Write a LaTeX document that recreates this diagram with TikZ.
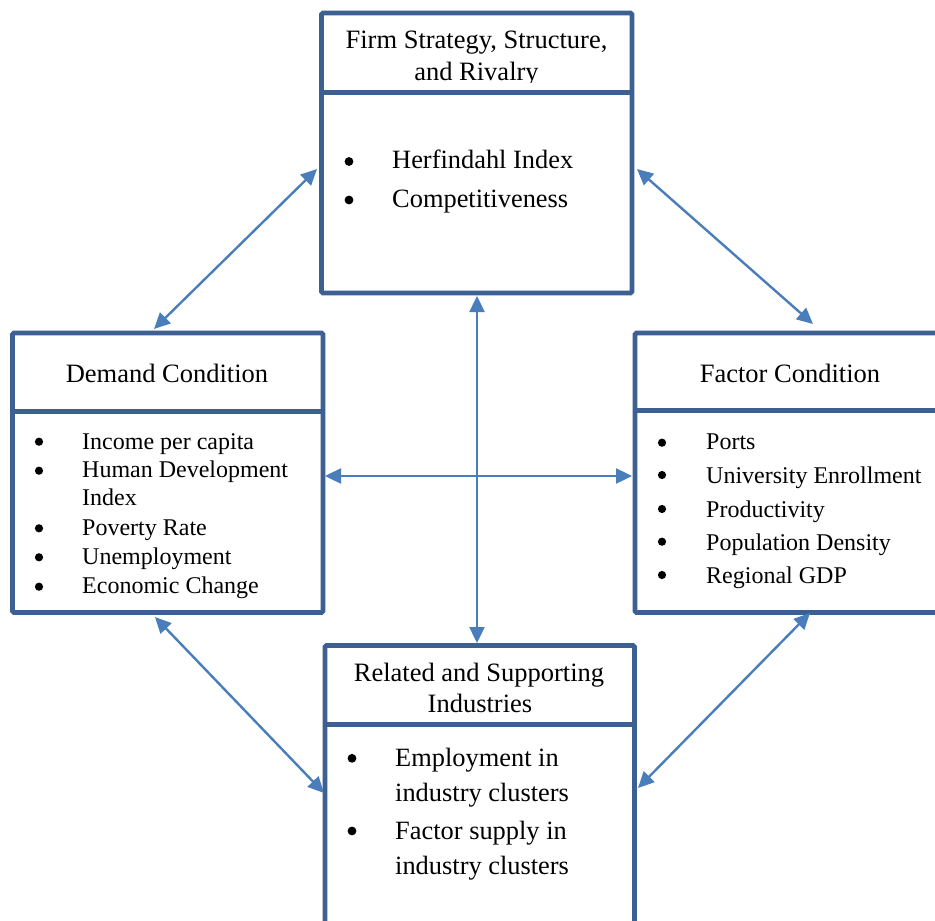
\documentclass[tikz,border=0pt]{standalone}
\usepackage{fontspec}
\setmainfont{Liberation Serif}
\usetikzlibrary{arrows.meta,calc}
\definecolor{boxblue}{RGB}{60,96,146}
\definecolor{arrowblue}{RGB}{74,126,187}
\begin{document}
\begin{tikzpicture}[x=1pt,y=-1pt,
  boxframe/.style={draw=boxblue, line width=4.8pt, fill=white, inner sep=0pt, rounded corners=1.5pt},
  divider/.style={draw=boxblue, line width=4.8pt},
  arr/.style={draw=arrowblue, line width=2.4pt, {Triangle[length=16pt,width=15pt]}-{Triangle[length=16pt,width=15pt]}},
  head/.style={anchor=base, inner sep=0pt, font=\fontsize{26.5}{32}\selectfont},
  bigitem/.style={anchor=base west, inner sep=0pt, font=\fontsize{26.4}{32}\selectfont},
  smallitem/.style={anchor=base west, inner sep=0pt, font=\fontsize{24}{29}\selectfont},
  dot/.style={fill=black}
]
\clip (0,0) rectangle (935,921);
\fill[white] (0,0) rectangle (935,921);

% boxes
\node[boxframe, minimum width=310.5, minimum height=280] (firm) at (476.75,153) {};
\node[boxframe, minimum width=310.5, minimum height=279.5] (demand) at (167.75,472.75) {};
\node[boxframe, minimum width=310.5, minimum height=279.5] (factor) at (790.25,472.75) {};
\node[boxframe, minimum width=309.5, minimum height=280] (related) at (479.75,785.5) {};

% header texts
\begin{scope}
\clip (322,15) rectangle (632,82);
\node[head] (firmh1) at (476.5,48) {Firm Strategy, Structure,};
\node[head] (firmh2) at (476.5,80) {and Rivalry};
\end{scope}
\node[head] (demandh) at (167,382) {Demand Condition};
\node[head] (factorh) at (790,382) {Factor Condition};
\node[head] (relh1) at (479,681) {Related and Supporting};
\node[head] (relh2) at (480,712) {Industries};

% dividers
\draw[divider] ($(firm.north west)+(2,82)$) -- ($(firm.north east)+(-2,82)$);
\draw[divider] ($(demand.north west)+(2,80.5)$) -- ($(demand.north east)+(-2,80.5)$);
\draw[divider] ($(factor.north west)+(2,80)$) -- ($(factor.north east)+(-2,80)$);
\draw[divider] ($(related.north west)+(2,81.5)$) -- ($(related.north east)+(-2,81.5)$);

% firm items
\fill[dot] (349,161.5) circle (4.4);
\fill[dot] (349,200) circle (4.4);
\node[bigitem] (f1) at (392,168) {Herfindahl Index};
\node[bigitem] (f2) at (392,207) {Competitiveness};

% demand items
\fill[dot] (39,441.7) circle (4.1);
\fill[dot] (39,470.7) circle (4.1);
\fill[dot] (39,528.3) circle (4.1);
\fill[dot] (39,557.3) circle (4.1);
\fill[dot] (39,586.7) circle (4.1);
\node[smallitem] (d1) at (82,449) {Income per capita};
\node[smallitem] (d2) at (82,477) {Human Development};
\node[smallitem] (d2b) at (82,505.5) {Index};
\node[smallitem] (d3) at (82,535) {Poverty Rate};
\node[smallitem] (d4) at (82,564) {Unemployment};
\node[smallitem] (d5) at (82,593) {Economic Change};

% factor items
\fill[dot] (662,442.7) circle (4.1);
\fill[dot] (662,475) circle (4.1);
\fill[dot] (662,509) circle (4.1);
\fill[dot] (662,541.7) circle (4.1);
\fill[dot] (662,575) circle (4.1);
\node[smallitem] (c1) at (706,449) {Ports};
\node[smallitem] (c2) at (706,483) {University Enrollment};
\node[smallitem] (c3) at (706,517) {Productivity};
\node[smallitem] (c4) at (706,550) {Population Density};
\node[smallitem] (c5) at (706,583) {Regional GDP};

% related items
\fill[dot] (352,758.3) circle (4.4);
\fill[dot] (352,831) circle (4.4);
\node[bigitem] (r1) at (395,766) {Employment in};
\node[bigitem] (r1b) at (395,801) {industry clusters};
\node[bigitem] (r2) at (395,839) {Factor supply in};
\node[bigitem] (r2b) at (395,874) {industry clusters};

% connector end points
\coordinate (tlA) at (317,169);
\coordinate (tlB) at (154,329);
\coordinate (trA) at (637,169);
\coordinate (trB) at (813,324);
\coordinate (blA) at (155,617);
\coordinate (blB) at (324,793);
\coordinate (brA) at (810,613);
\coordinate (brB) at (638,788);
\coordinate (vA) at (477,296);
\coordinate (vB) at (477,643);
\coordinate (hA) at (325,476);
\coordinate (hB) at (632,476);

% connectors
\draw[arr] (tlA) -- (tlB);
\draw[arr] (trA) -- (trB);
\draw[arr] (blA) -- (blB);
\draw[arr] (brA) -- (brB);
\draw[arr] (vA) -- (vB);
\draw[arr] (hA) -- (hB);
\end{tikzpicture}
\end{document}
